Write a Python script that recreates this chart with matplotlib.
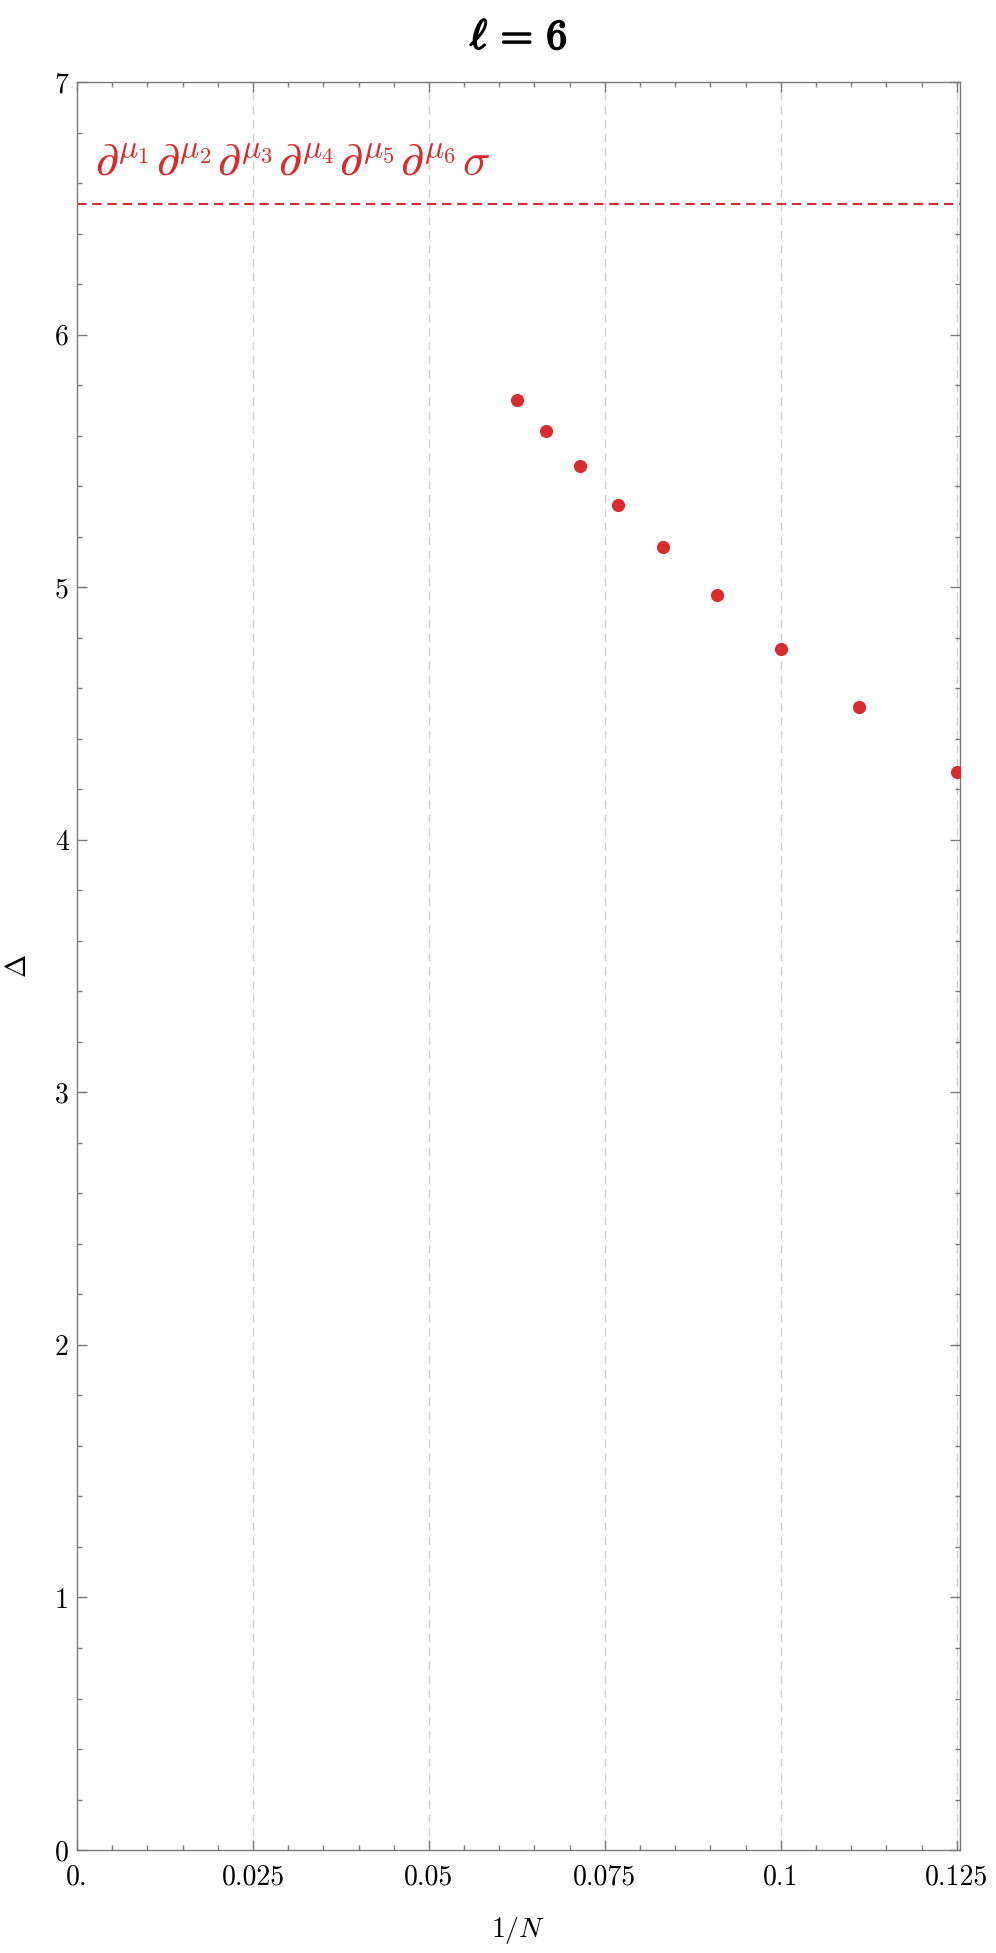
import matplotlib
matplotlib.use("Agg")
import matplotlib.pyplot as plt
import matplotlib.patheffects as pe
from matplotlib.ticker import FixedLocator, MultipleLocator

plt.rcParams['mathtext.fontset'] = 'cm'
plt.rcParams['font.family'] = ['serif']
plt.rcParams['font.serif'] = ['cmr10', 'DejaVu Serif']
plt.rcParams['axes.unicode_minus'] = False

# data
N_values = [16, 15, 14, 13, 12, 11, 10, 9, 8]
inv_N = [1.0 / n for n in N_values]
delta = [5.740, 5.617, 5.480, 5.327, 5.160, 4.969, 4.756, 4.524, 4.267]
ref_level = 6.518
ref_label = (r'$\partial^{\mu_1}\hspace{0.05}\partial^{\mu_2}\hspace{0.05}\partial^{\mu_3}\hspace{0.05}'
             r'\partial^{\mu_4}\hspace{0.05}\partial^{\mu_5}\hspace{0.05}\partial^{\mu_6}\hspace{0.05}\sigma$')
x_ticks = [0.0, 0.025, 0.05, 0.075, 0.1, 0.125]
x_ticklabels = ['0.', '0.025', '0.05', '0.075', '0.1', '0.125']
y_ticks = [0, 1, 2, 3, 4, 5, 6, 7]
title = r'$\ell\,=\,\mathbf{6}$'

red = '#d92b2b'
frame_gray = '#7a7a7a'

fig = plt.figure(figsize=(9.96, 19.53), dpi=100)
ax = fig.add_axes([0.0773, 0.0527, 0.8866, 0.9053])

ax.set_xlim(0, 0.12547)
ax.set_ylim(0, 7)

for xv in x_ticks[1:]:
    ax.axvline(xv, color='#d0d0d0', lw=1.0, ls=(0, (6, 4)), zorder=1)

ax.axhline(ref_level, color=red, lw=1.5, ls=(0, (4.5, 2.8)), zorder=2)
ax.text(0.0025, 6.635, ref_label, color=red, fontsize=33, ha='left', va='baseline')

ax.plot(inv_N, delta, 'o', color=red, markersize=9.5, markeredgewidth=0, zorder=3, clip_on=True)

ax.xaxis.set_major_locator(FixedLocator(x_ticks))
ax.set_xticklabels(x_ticklabels)
ax.xaxis.set_minor_locator(MultipleLocator(0.005))
ax.yaxis.set_major_locator(FixedLocator(y_ticks))
ax.set_yticklabels([str(v) for v in y_ticks])
ax.yaxis.set_minor_locator(MultipleLocator(0.2))

ax.tick_params(which='both', direction='in', top=True, right=True, color=frame_gray, width=1.0)
ax.tick_params(which='major', length=7, labelsize=20)
ax.tick_params(which='minor', length=3.5)
ax.tick_params(axis='x', which='major', pad=10)
ax.tick_params(axis='y', which='major', pad=6)
for lab in ax.get_xticklabels() + ax.get_yticklabels():
    lab.set_fontfamily('cmr10')

for s in ax.spines.values():
    s.set_color(frame_gray)
    s.set_linewidth(1.0)

ax.set_xlabel(r'$1/N$', fontsize=20, labelpad=18)
ax.set_ylabel(r'$\Delta$', fontsize=20, labelpad=16)

ax.set_title(title, fontsize=30, pad=24,
             path_effects=[pe.withStroke(linewidth=1.3, foreground='black')])

fig.savefig('out.png', dpi=100)
